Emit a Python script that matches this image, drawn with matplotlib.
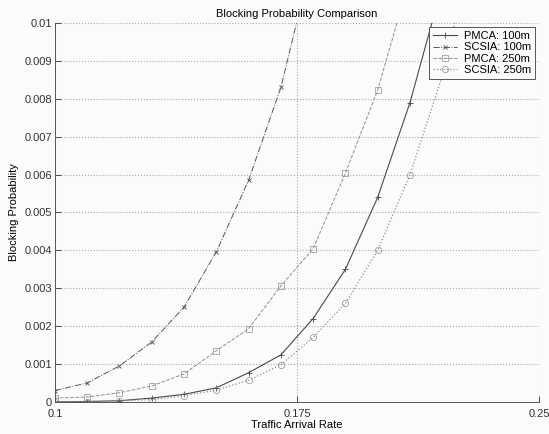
import numpy as np
import matplotlib
matplotlib.use('Agg')
from matplotlib import pyplot as plt

plt.rcParams['font.family'] = ['Liberation Sans', 'DejaVu Sans']

# traffic arrival rate (x) and blocking probability curves
rate = [0.10, 0.11, 0.12, 0.13, 0.14, 0.15, 0.16, 0.17, 0.18, 0.19, 0.20, 0.21, 0.22, 0.23]
pmca_100 = [0.0, 0.00001, 0.00003, 0.0001, 0.0002, 0.00037, 0.00077, 0.00124,
            0.0022, 0.0035, 0.0054, 0.0079, 0.011, 0.015]
scsia_100 = [0.0003, 0.0005, 0.00095, 0.00158, 0.0025, 0.00396, 0.00585, 0.0083,
             0.0118, 0.016, 0.021, 0.027, 0.034, 0.042]
pmca_250 = [0.0001, 0.00013, 0.00024, 0.00042, 0.00074, 0.00135, 0.00193, 0.00306,
            0.00404, 0.00604, 0.00823, 0.0112, 0.015, 0.02]
scsia_250 = [0.0, 0.00001, 0.00003, 0.00006, 0.00016, 0.00031, 0.00057, 0.00098,
             0.0017, 0.0026, 0.0040, 0.0060, 0.0086, 0.0122]

labels = ['PMCA: 100m', 'SCSIA: 100m', 'PMCA: 250m', 'SCSIA: 250m']
xticks = [0.1, 0.175, 0.25]
yticks = np.arange(0, 0.0101, 0.001)
yticklabels = ['0', '0.001', '0.002', '0.003', '0.004', '0.005', '0.006',
               '0.007', '0.008', '0.009', '0.01']

fig = plt.figure(figsize=(5.49, 4.34), dpi=100)
fig.patch.set_facecolor('#fbfbfb')
ax = fig.add_axes([0.100, 0.074, 0.882, 0.873])
ax.set_facecolor('#fbfbfb')

ax.plot(rate, pmca_100, '-', color='#4a4a4a', lw=0.8, marker='+', ms=4, mew=0.6,
        label=labels[0])
ax.plot(rate, scsia_100, '-.', color='#555555', lw=0.7, marker='x', ms=3.5, mew=0.6,
        label=labels[1])
ax.plot(rate, pmca_250, '--', color='#8f8f8f', lw=0.7, marker='s', ms=4.5, mew=0.5,
        mfc='none', label=labels[2])
ax.plot(rate, scsia_250, ':', color='#8f8f8f', lw=0.9, marker='o', ms=4.5, mew=0.5,
        mfc='none', label=labels[3])

ax.set_xlim(0.1, 0.25)
ax.set_ylim(0, 0.01)
ax.set_xticks(xticks)
ax.set_xticklabels(['0.1', '0.175', '0.25'])
ax.set_yticks(yticks)
ax.set_yticklabels(yticklabels)
ax.tick_params(direction='in', length=4, width=0.6, labelsize=8, colors='#333333',
               pad=2)
ax.tick_params(axis='x', pad=5)
ax.grid(True, linestyle=':', color='#aaaaaa', lw=0.8)
for s in ax.spines.values():
    s.set_color('#555555')
    s.set_linewidth(0.7)
ax.spines['top'].set_visible(False)
ax.spines['right'].set_visible(False)

ax.set_title('Blocking Probability Comparison', fontsize=8, pad=4)
ax.set_xlabel('Traffic Arrival Rate', fontsize=8, labelpad=1)
ax.set_ylabel('Blocking Probability', fontsize=8, labelpad=4)

leg = ax.legend(loc='upper right', fontsize=8, fancybox=False, framealpha=1,
                edgecolor='#555555', borderpad=0.35, labelspacing=0.1,
                handlelength=2.2, handletextpad=0.6, borderaxespad=0.4)
leg.get_frame().set_linewidth(0.7)
leg.get_frame().set_facecolor('#fbfbfb')

fig.savefig('out.png', dpi=100)
